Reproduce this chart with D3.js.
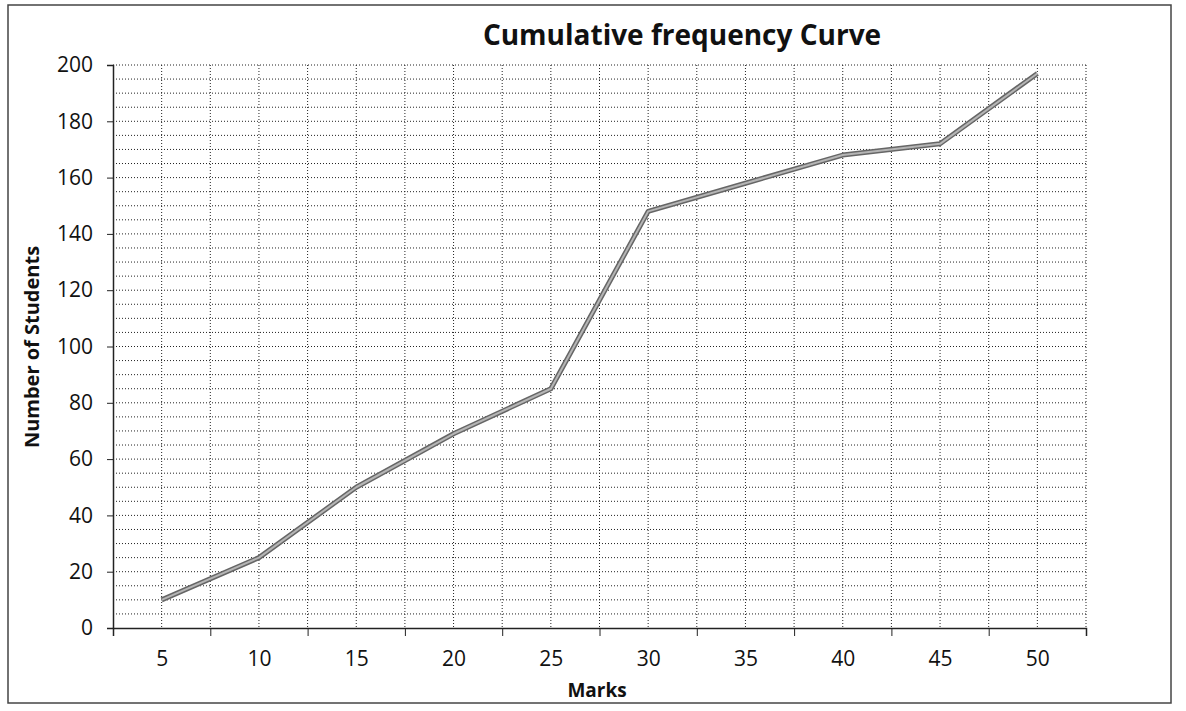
<!DOCTYPE html>
<html>
<head>
<meta charset="utf-8">
<script src="https://cdn.jsdelivr.net/npm/d3@7"></script>
<style>
  body { margin: 0; background: #fff; }
  svg { display: block; }
</style>
</head>
<body>
<div id="chart"></div>
<script>
// values
var marks = [5, 10, 15, 20, 25, 30, 35, 40, 45, 50];
var students = [10, 25, 50, 69, 85, 148, 158, 168, 172, 197];
var yTickLabels = [0, 20, 40, 60, 80, 100, 120, 140, 160, 180, 200];
var xTickLabels = [5, 10, 15, 20, 25, 30, 35, 40, 45, 50];

var W = 1186, H = 711;
var plotLeft = 113, plotRight = 1086, plotTop = 65, plotBottom = 628;

var svg = d3.select('#chart').append('svg')
  .attr('width', W)
  .attr('height', H);

// outer chart frame
svg.append('rect')
  .attr('x', 8).attr('y', 5)
  .attr('width', 1163).attr('height', 698)
  .attr('fill', 'none')
  .attr('stroke', '#444')
  .attr('stroke-width', 1.5);

var x = d3.scaleLinear().domain([2.5, 52.5]).range([plotLeft, plotRight]);
var y = d3.scaleLinear().domain([0, 200]).range([plotBottom, plotTop]);

// dotted grid
var grid = svg.append('g')
  .attr('stroke', '#222')
  .attr('stroke-width', 1)
  .attr('stroke-dasharray', '1,2');
grid.selectAll('line.h')
  .data(d3.range(5, 201, 5))
  .enter().append('line')
  .attr('x1', plotLeft).attr('x2', plotRight)
  .attr('y1', function(d) { return y(d); })
  .attr('y2', function(d) { return y(d); });
grid.selectAll('line.v')
  .data(d3.range(5, 52.6, 2.5))
  .enter().append('line')
  .attr('y1', plotTop).attr('y2', plotBottom)
  .attr('x1', function(d) { return x(d); })
  .attr('x2', function(d) { return x(d); });

// y axis
var yAxis = d3.axisLeft(y)
  .tickValues(yTickLabels)
  .tickSize(6)
  .tickPadding(14);
svg.append('g')
  .attr('transform', 'translate(' + plotLeft + ',0)')
  .call(yAxis);

// x axis: ticks on category boundaries, labels at category centres
var xAxis = d3.axisBottom(x)
  .tickValues(d3.range(2.5, 52.6, 5))
  .tickSize(8)
  .tickFormat('');
svg.append('g')
  .attr('transform', 'translate(0,' + plotBottom + ')')
  .call(xAxis);
var xLab = d3.axisBottom(x)
  .tickValues(xTickLabels)
  .tickSize(0)
  .tickPadding(23);
var gxl = svg.append('g')
  .attr('transform', 'translate(0,' + plotBottom + ')')
  .call(xLab);
gxl.select('.domain').remove();

svg.selectAll('.domain').attr('stroke', '#222').attr('stroke-width', 1.5);
svg.selectAll('.tick line').attr('stroke', '#222');
svg.selectAll('.tick text')
  .attr('font-family', 'Open Sans, sans-serif')
  .attr('font-size', 21)
  .attr('fill', '#111');

// the curve
var line = d3.line()
  .x(function(d, i) { return x(marks[i]); })
  .y(function(d) { return y(d); });
svg.append('path')
  .datum(students)
  .attr('d', line)
  .attr('fill', 'none')
  .attr('stroke', '#666')
  .attr('stroke-width', 5)
  .attr('stroke-linejoin', 'round');
svg.append('path')
  .datum(students)
  .attr('d', line)
  .attr('fill', 'none')
  .attr('stroke', '#b5b5b5')
  .attr('stroke-width', 2)
  .attr('stroke-linejoin', 'round');

// titles
svg.append('text')
  .attr('x', 682).attr('y', 45)
  .attr('text-anchor', 'middle')
  .attr('font-family', 'Open Sans, sans-serif')
  .attr('font-weight', 'bold')
  .attr('font-size', 28)
  .attr('fill', '#111')
  .text('Cumulative frequency Curve');

svg.append('text')
  .attr('x', 597).attr('y', 697)
  .attr('text-anchor', 'middle')
  .attr('font-family', 'Open Sans, sans-serif')
  .attr('font-weight', 'bold')
  .attr('font-size', 19)
  .attr('fill', '#111')
  .text('Marks');

svg.append('text')
  .attr('transform', 'translate(39,347) rotate(-90)')
  .attr('text-anchor', 'middle')
  .attr('font-family', 'Open Sans, sans-serif')
  .attr('font-weight', 'bold')
  .attr('font-size', 20)
  .attr('fill', '#111')
  .text('Number of Students');
</script>
</body>
</html>
